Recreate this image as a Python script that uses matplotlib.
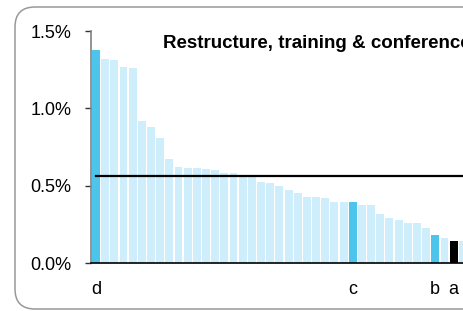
import matplotlib
matplotlib.use('Agg')
import matplotlib.pyplot as plt
from matplotlib.patches import FancyBboxPatch

plt.rcParams['font.family'] = ['Liberation Sans', 'DejaVu Sans']

# share of spend (%) per organisation, sorted high to low
values = [1.38, 1.32, 1.31, 1.27, 1.26, 0.92, 0.88, 0.81, 0.67, 0.62,
          0.616, 0.614, 0.605, 0.599, 0.584, 0.582, 0.572, 0.570, 0.526, 0.517,
          0.50, 0.472, 0.45, 0.427, 0.425, 0.42, 0.396, 0.396, 0.396, 0.377,
          0.377, 0.319, 0.291, 0.28, 0.256, 0.256, 0.226, 0.181, 0.164, 0.144,
          0.144]
highlight = {0: 'd', 28: 'c', 37: 'b', 39: 'a'}
average = 0.565
# the source image is cropped, so the title runs past the right edge
title = "Restructure, training & conference costs"

light = '#cdeefa'
blue = '#4cc4ec'

fig = plt.figure(figsize=(4.63, 3.11), dpi=100)

# rounded frame, runs off the right edge like the source
frame = FancyBboxPatch((0.15, 0.02), 5.5, 3.02, boxstyle='round,pad=0,rounding_size=0.2',
                       transform=fig.dpi_scale_trans, facecolor='none',
                       edgecolor='#999999', linewidth=1.1, clip_on=False)
fig.patches.append(frame)

ax = fig.add_axes([91 / 463, 48 / 311, 1 - 91 / 463, 232 / 311])

colors = []
for i in range(len(values)):
    if i == 39:
        colors.append('black')
    elif i in highlight:
        colors.append(blue)
    else:
        colors.append(light)

ax.bar(range(len(values)), values, width=0.86, color=colors)
ax.axhline(average, xmin=0.013, color='black', linewidth=1.6)

ax.set_xlim(-0.545, (463 - 96) / 9.17)
ax.set_ylim(0, 1.5)
ax.set_yticks([0, 0.5, 1.0, 1.5])
ax.set_yticklabels(['0.0%', '0.5%', '1.0%', '1.5%'], fontsize=13)
ax.set_xticks(list(highlight.keys()))
ax.set_xticklabels(list(highlight.values()), fontsize=13)
ax.tick_params(axis='x', length=0, pad=13)
ax.tick_params(axis='y', length=4, width=1, color='#333333', pad=10)

ax.spines['top'].set_visible(False)
ax.spines['right'].set_visible(False)
ax.spines['left'].set_color('#808080')
ax.spines['left'].set_linewidth(1.2)
ax.spines['bottom'].set_color('black')
ax.spines['bottom'].set_linewidth(1.2)

fig.text(163 / 463, 1 - 44 / 311, title, fontsize=13.5, fontweight='bold',
         ha='left', va='center')

fig.savefig('out.png', dpi=100)
